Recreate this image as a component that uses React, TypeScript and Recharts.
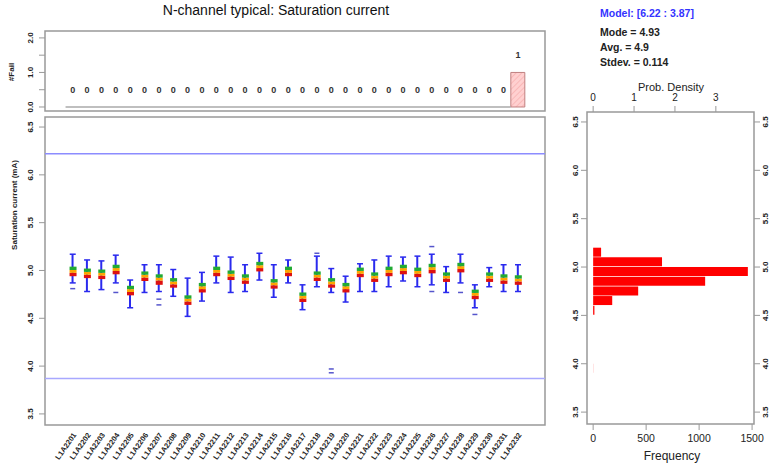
import React from 'react';
import { ComposedChart, BarChart, Bar, Scatter, XAxis, YAxis, ReferenceLine, ReferenceArea } from 'recharts';

const lots = [
  'L1A2201', 'L1A2202', 'L1A2203', 'L1A2204', 'L1A2205', 'L1A2206', 'L1A2207', 'L1A2208',
  'L1A2209', 'L1A2210', 'L1A2211', 'L1A2212', 'L1A2213', 'L1A2214', 'L1A2215', 'L1A2216',
  'L1A2217', 'L1A2218', 'L1A2219', 'L1A2220', 'L1A2221', 'L1A2222', 'L1A2223', 'L1A2224',
  'L1A2225', 'L1A2226', 'L1A2227', 'L1A2228', 'L1A2229', 'L1A2230', 'L1A2231', 'L1A2232',
];
const medians = [4.99, 4.97, 4.96, 5.01, 4.79, 4.94, 4.91, 4.87, 4.69, 4.82, 4.99, 4.95, 4.91, 5.04, 4.86, 4.99, 4.72, 4.94, 4.87, 4.82, 4.98, 4.93, 4.99, 5.01, 4.98, 5.02, 4.93, 5.03, 4.75, 4.93, 4.91, 4.90];
const q1s = [4.94, 4.92, 4.91, 4.96, 4.74, 4.89, 4.85, 4.82, 4.64, 4.77, 4.94, 4.90, 4.86, 4.99, 4.81, 4.94, 4.67, 4.89, 4.82, 4.77, 4.93, 4.88, 4.94, 4.96, 4.93, 4.97, 4.88, 4.98, 4.70, 4.88, 4.86, 4.85];
const q3s = [5.04, 5.02, 5.01, 5.06, 4.84, 4.99, 4.96, 4.92, 4.74, 4.87, 5.04, 5.00, 4.96, 5.09, 4.91, 5.04, 4.77, 4.99, 4.92, 4.87, 5.03, 4.98, 5.04, 5.06, 5.03, 5.07, 4.98, 5.08, 4.80, 4.98, 4.96, 4.95];
const whiskLo = [4.87, 4.78, 4.80, 4.87, 4.61, 4.77, 4.78, 4.73, 4.52, 4.68, 4.87, 4.77, 4.78, 4.90, 4.72, 4.87, 4.59, 4.83, 4.77, 4.67, 4.78, 4.78, 4.83, 4.89, 4.83, 4.85, 4.77, 4.87, 4.61, 4.83, 4.78, 4.78];
const whiskHi = [5.17, 5.11, 5.10, 5.16, 4.90, 5.06, 5.06, 5.01, 4.92, 4.98, 5.15, 5.14, 5.06, 5.18, 5.06, 5.11, 4.85, 5.15, 5.02, 4.94, 5.07, 5.11, 5.15, 5.14, 5.15, 5.17, 5.04, 5.17, 4.85, 5.03, 5.06, 5.06];
const outlierLot = [1, 4, 7, 7, 18, 19, 19, 26, 26, 28, 29];
const outlierVal = [4.81, 4.77, 4.70, 4.64, 5.18, 3.93, 3.97, 5.25, 4.78, 4.77, 4.54];
const failCounts = [0, 0, 0, 0, 0, 0, 0, 0, 0, 0, 0, 0, 0, 0, 0, 0, 0, 0, 0, 0, 0, 0, 0, 0, 0, 0, 0, 0, 0, 0, 0, 1];
const specUpper = 6.22;
const specLower = 3.87;
const histMids = [5.15, 5.05, 4.95, 4.85, 4.75, 4.65, 4.55, 3.95];
const histCounts = [75, 650, 1460, 1057, 425, 180, 12, 1];
const yTicks = [3.5, 4.0, 4.5, 5.0, 5.5, 6.0, 6.5];
const failTicks = [0, 0.5, 1, 1.5, 2];
const freqTicks = [0, 500, 1000, 1500];
const densTicks = [0, 1, 2, 3];

const FONT = 'Liberation Sans, Arial, Helvetica, sans-serif';
const xDomain: [number, number] = [-0.93, 33.88];
const yDomain: [number, number] = [3.384, 6.605];
const failDomain: [number, number] = [-0.116, 2.2];
const histYDomain: [number, number] = [3.377, 6.603];
const freqDomain: [number, number] = [-58, 1518];
const histTotal = histCounts.reduce((a, b) => a + b, 0);
const densDomain: [number, number] = [freqDomain[0] / (histTotal * 0.1), freqDomain[1] / (histTotal * 0.1)];

const lotIdx = lots.map((_, i) => i + 1);
const rows = lots.map((name, i) => ({
  idx: i + 1,
  name,
  wh: [whiskLo[i], whiskHi[i]],
  red: [q1s[i], medians[i] - 0.015],
  ora: [medians[i] - 0.015, medians[i] + 0.015],
  grn: [medians[i] + 0.015, q3s[i]],
  lo: whiskLo[i],
  hi: whiskHi[i],
}));
const outliers = outlierLot.map((l, k) => ({ idx: l, v: outlierVal[k] }));
const failRows = failCounts.map((c, i) => ({ idx: i + 1, fail: c }));
const histRows = histMids.map((m, i) => ({ mid: m, count: histCounts[i], none: 0 }));

const RotTick = (props: any) => {
  const { x, y, payload, dx = 0, fmt } = props;
  const label = fmt ? fmt(payload.value) : payload.value;
  const tx = x + dx;
  return (
    <text x={tx} y={y} transform={`rotate(-90 ${tx} ${y})`} textAnchor="middle" fontSize={8} fontWeight="bold" fill="#222" fontFamily={FONT}>
      {label}
    </text>
  );
};

const LotTick = (props: any) => {
  const { x, y, payload } = props;
  const name = lots[payload.value - 1] ?? '';
  const tx = x + 4;
  const ty = y + 2;
  return (
    <text x={tx} y={ty} transform={`rotate(-55 ${tx} ${ty})`} textAnchor="end" fontSize={7.5} fontWeight="bold" fill="#222" fontFamily={FONT}>
      {name}
    </text>
  );
};

const HTick = (props: any) => {
  const { x, y, payload, dy = 0, fs = 10 } = props;
  return (
    <text x={x} y={y + dy} textAnchor="middle" fontSize={fs} fill="#222" fontFamily={FONT}>
      {payload.value}
    </text>
  );
};

const Cap = (p: any) => <line x1={p.cx - 3} x2={p.cx + 3} y1={p.cy} y2={p.cy} stroke="#2a2aee" strokeWidth={1.5} />;
const Dash = (p: any) => <line x1={p.cx - 2.5} x2={p.cx + 2.5} y1={p.cy} y2={p.cy} stroke="#5555cc" strokeWidth={1.5} />;
const CountLabel = (p: any) => (
  <text x={p.cx} y={p.cy - 14} textAnchor="middle" fontSize={9} fontWeight="bold" fill="#333" fontFamily={FONT}>
    {p.payload?.fail}
  </text>
);

const fmt1 = (v: number) => v.toFixed(1);
const fmtFail = (v: number) => (v % 1 === 0 ? v.toFixed(1) : '');

const W = 771;
const H = 466;

export default function App() {
  return (
    <div style={{ position: 'absolute', left: 0, top: 0, width: W, height: H, background: '#fff', fontFamily: FONT }}>
      {/* top fail-count panel */}
      <div style={{ position: 'absolute', left: 0, top: 0 }}>
        <ComposedChart width={W} height={H} data={failRows} margin={{ top: 31, right: 226, left: 0, bottom: 355 }}>
          <defs>
            <pattern id="hatch" patternUnits="userSpaceOnUse" width="4" height="4" patternTransform="rotate(45)">
              <rect width="4" height="4" fill="#ffd0d0" />
              <line x1="0" y1="0" x2="0" y2="4" stroke="#f4a0a0" strokeWidth="1" />
            </pattern>
          </defs>
          <XAxis dataKey="idx" type="number" domain={xDomain} allowDataOverflow hide />
          <YAxis type="number" domain={failDomain} allowDataOverflow ticks={failTicks} width={45} axisLine={false} tickLine={{ stroke: '#999' }} tickSize={6} interval={0} tick={<RotTick dx={-4} fmt={fmtFail} />} />
          <ReferenceArea x1={xDomain[0]} x2={xDomain[1]} y1={failDomain[0]} y2={failDomain[1]} fill="none" stroke="#999" strokeWidth={1.5} ifOverflow="visible" />
          <ReferenceLine segment={[{ x: 0.5, y: 0 }, { x: 31.5, y: 0 }]} stroke="#aaa" strokeWidth={1.5} />
          <Bar dataKey="fail" barSize={14} fill="url(#hatch)" stroke="#c08080" strokeWidth={1} isAnimationActive={false} />
          <Scatter dataKey="fail" shape={CountLabel} isAnimationActive={false} />
        </ComposedChart>
      </div>

      {/* main box plot panel */}
      <div style={{ position: 'absolute', left: 0, top: 0 }}>
        <ComposedChart width={W} height={H} data={rows} margin={{ top: 117, right: 226, left: 0, bottom: 0 }}>
          <XAxis xAxisId={0} dataKey="idx" type="number" domain={xDomain} allowDataOverflow ticks={lotIdx} interval={0} height={41} axisLine={false} tickLine={false} tick={<LotTick />} />
          <XAxis xAxisId={1} dataKey="idx" type="number" domain={xDomain} allowDataOverflow hide />
          <XAxis xAxisId={2} dataKey="idx" type="number" domain={xDomain} allowDataOverflow hide />
          <XAxis xAxisId={3} dataKey="idx" type="number" domain={xDomain} allowDataOverflow hide />
          <YAxis type="number" domain={yDomain} allowDataOverflow ticks={yTicks} interval={0} width={45} axisLine={false} tickLine={{ stroke: '#999' }} tickSize={6} tick={<RotTick dx={-4} fmt={fmt1} />} />
          <ReferenceArea x1={xDomain[0]} x2={xDomain[1]} y1={yDomain[0]} y2={yDomain[1]} fill="none" stroke="#999" strokeWidth={1.5} ifOverflow="visible" />
          <ReferenceLine y={specUpper} stroke="#8c8cff" strokeWidth={1.5} />
          <ReferenceLine y={specLower} stroke="#a8a8ff" strokeWidth={1.5} />
          <Bar xAxisId={0} dataKey="wh" barSize={2} fill="#2a2aee" isAnimationActive={false} />
          <Bar xAxisId={1} dataKey="red" barSize={7} fill="#dd1111" isAnimationActive={false} />
          <Bar xAxisId={2} dataKey="ora" barSize={7} fill="#ffa500" isAnimationActive={false} />
          <Bar xAxisId={3} dataKey="grn" barSize={7} fill="#22aa33" isAnimationActive={false} />
          <Scatter xAxisId={0} dataKey="hi" shape={Cap} isAnimationActive={false} />
          <Scatter xAxisId={0} dataKey="lo" shape={Cap} isAnimationActive={false} />
          <Scatter xAxisId={0} data={outliers} dataKey="v" shape={Dash} isAnimationActive={false} />
        </ComposedChart>
      </div>

      {/* histogram panel */}
      <div style={{ position: 'absolute', left: 0, top: 0 }}>
        <BarChart width={W} height={H} data={histRows} layout="vertical" margin={{ top: 87, right: 0, left: 547, bottom: 0 }}>
          <XAxis xAxisId="f" type="number" domain={freqDomain} allowDataOverflow ticks={freqTicks} interval={0} orientation="bottom" height={42} axisLine={false} tickLine={{ stroke: '#999' }} tickSize={6} tick={<HTick dy={10} fs={10.5} />} />
          <XAxis xAxisId="d" type="number" domain={densDomain} allowDataOverflow ticks={densTicks} interval={0} orientation="top" height={25} axisLine={false} tickLine={{ stroke: '#999' }} tickSize={6} tick={<HTick dy={-3} fs={10} />} />
          <YAxis yAxisId="l" type="number" dataKey="mid" domain={histYDomain} allowDataOverflow reversed ticks={yTicks} interval={0} width={40} axisLine={false} tickLine={{ stroke: '#999' }} tickSize={6} tick={<RotTick dx={-1} fmt={fmt1} />} />
          <YAxis yAxisId="r" type="number" dataKey="mid" orientation="right" domain={histYDomain} allowDataOverflow reversed ticks={yTicks} interval={0} width={17} axisLine={false} tickLine={{ stroke: '#999' }} tickSize={6} tick={<RotTick dx={6} fmt={fmt1} />} />
          <ReferenceArea xAxisId="f" yAxisId="l" x1={freqDomain[0]} x2={freqDomain[1]} y1={histYDomain[0]} y2={histYDomain[1]} fill="none" stroke="#999" strokeWidth={1.5} ifOverflow="visible" />
          <Bar xAxisId="f" yAxisId="l" dataKey="count" barSize={9} fill="#ff0000" isAnimationActive={false} />
          <Bar xAxisId="d" yAxisId="r" dataKey="none" barSize={1} fill="none" isAnimationActive={false} />
        </BarChart>
      </div>

      {/* text overlay */}
      <svg width={W} height={H} style={{ position: 'absolute', left: 0, top: 0, pointerEvents: 'none' }} fontFamily={FONT}>
        <text x={276} y={15} textAnchor="middle" fontSize={14} fill="#111">N-channel typical: Saturation current</text>
        <text x={14} y={72} transform="rotate(-90 14 72)" textAnchor="middle" fontSize={8} fontWeight="bold" fill="#222">#Fail</text>
        <text x={17} y={205} transform="rotate(-90 17 205)" textAnchor="middle" fontSize={8} fontWeight="bold" fill="#222">Saturation current (mA)</text>
        <text x={600} y={17} fontSize={10.5} fontWeight="bold" fill="#3333ff">Model: [6.22 : 3.87]</text>
        <text x={600} y={36} fontSize={10.5} fontWeight="bold" fill="#222">Mode = 4.93</text>
        <text x={600} y={51} fontSize={10.5} fontWeight="bold" fill="#222">Avg. = 4.9</text>
        <text x={600} y={66} fontSize={10.5} fontWeight="bold" fill="#222">Stdev. = 0.114</text>
        <text x={671} y={91} textAnchor="middle" fontSize={11} fill="#222">Prob. Density</text>
        <text x={672} y={460} textAnchor="middle" fontSize={12} fill="#222">Frequency</text>
      </svg>
    </div>
  );
}
